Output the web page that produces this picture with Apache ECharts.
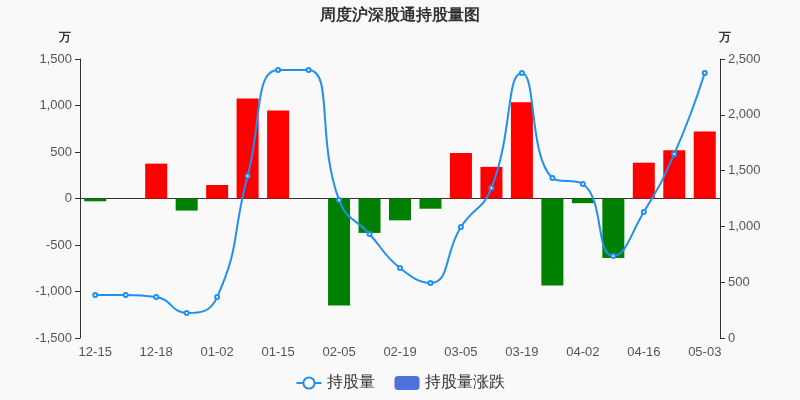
<!DOCTYPE html><html><head><meta charset="utf-8"><script src="https://cdn.jsdelivr.net/npm/echarts@6/dist/echarts.min.js"></script></head><body style="margin:0;background:#f9f9f9"><div id="c" style="width:800px;height:400px"></div><script>
const categories=['12-15','12-16','12-18','12-25','01-02','01-08','01-15','01-22','02-05','02-12','02-19','02-26','03-05','03-12','03-19','03-26','04-02','04-09','04-16','04-23','05-03'];
const holdings=[385,385,367,224,367,1452,2401,2401,1237,932,627,493,995,1344,2375,1434,1380,735,1129,1649,2375];
const changes=[-30,0,375,-130,145,1075,945,0,-1150,-370,-235,-110,490,340,1035,-935,-50,-640,385,520,720];
const c=echarts.init(document.getElementById('c'));
const lbl={color:'#555',fontSize:13};
c.setOption({backgroundColor:'#f9f9f9',
title:{text:'周度沪深股通持股量图',left:'center',top:3,textStyle:{fontSize:16,fontWeight:'bold',color:'#333'}},
legend:{bottom:4,itemGap:20,textStyle:{fontSize:16,color:'#333'},data:['持股量','持股量涨跌']},
grid:{left:80,right:80,top:59,bottom:62},
xAxis:{type:'category',data:categories,axisLabel:{...lbl,interval:1},axisTick:{show:false},axisLine:{lineStyle:{color:'#333'}}},
yAxis:[{type:'value',name:'万',min:-1500,max:1500,interval:500,nameTextStyle:{color:'#333',fontWeight:'bold',padding:[0,30,0,0]},axisLabel:lbl,splitLine:{show:false},axisLine:{show:true,lineStyle:{color:'#333'}},axisTick:{show:true}},
{type:'value',name:'万',min:0,max:2500,interval:500,nameTextStyle:{color:'#333',fontWeight:'bold',padding:[0,0,0,10]},axisLabel:lbl,splitLine:{show:false},axisLine:{show:true,lineStyle:{color:'#333'}},axisTick:{show:true}}],
series:[{name:'持股量',type:'line',yAxisIndex:1,smooth:true,data:holdings,symbol:'emptyCircle',symbolSize:4,itemStyle:{color:'#2090f0'},lineStyle:{width:2,color:'#2090f0'},z:3},
{name:'持股量涨跌',type:'bar',data:changes,barWidth:22,itemStyle:{color:p=>p.value>=0?'#ff0000':'#008000'}}]});
</script></body></html>
